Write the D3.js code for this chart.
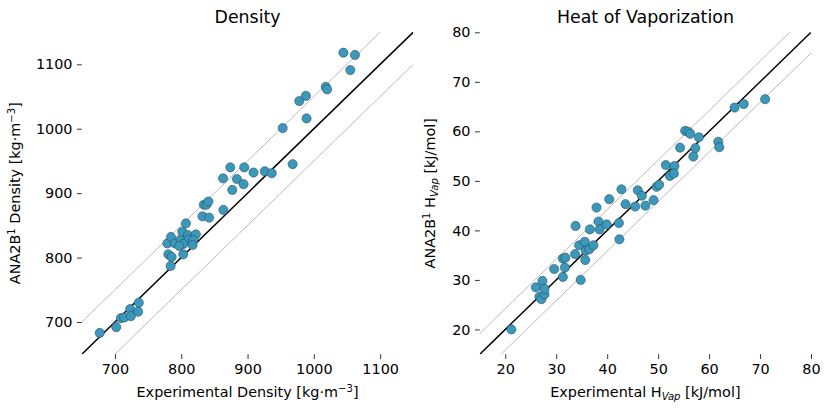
<!DOCTYPE html>
<html>
<head>
<meta charset="utf-8">
<script src="https://cdn.jsdelivr.net/npm/d3@7"></script>
<style>
body{margin:0;background:#fff;}
svg{font-family:"DejaVu Sans",sans-serif;}
</style>
</head>
<body>
<svg id="chart" width="831" height="414"></svg>
<script>
// ---- Data ----
const densityExp  = [677,702,709,714,723,724,736,735,779,784.5,790.6,799,801.6,807,810,822,811,818,803,797,817,780.5,785.5,803,784,832,842,834,838,841,863.5,863,874,877,884,895,894,909,926,936.5,968,953,978,988,989,1018,1020,1044.6,1062,1055];
const densityPred = [683,692,706,707,720,709,730,716,822,832,822,828,840,853,835,836,828,827,821,818,819.5,805,801,805,787,864,862,882,882,887,874,923,940,905,922,940,914,932,934,931,945,1001,1043,1051,1016,1065,1061,1118,1114.5,1091];

const hvapExp  = [21.2,26.0,27.3,26.7,27.1,27.7,27.7,29.6,31.3,31.8,31.7,31.3,33.8,33.7,34.5,35.6,35.8,35.7,34.8,36.5,37.3,36.6,37.9,38.3,38.5,39.9,40.4,42.3,42.4,42.8,43.6,45.5,46.0,46.8,47.5,49.1,49.7,50.2,51.5,52.3,53.2,53.1,54.3,55.3,55.9,56.3,57.3,56.9,58.0,61.8,62.0,65.0,66.8,71.0];
const hvapPred = [20.0,28.5,29.8,26.6,26.1,27.1,28.2,32.2,34.3,34.5,32.5,30.6,40.9,35.2,37.0,37.7,35.9,34.0,30.0,36.2,37.0,40.2,44.6,41.8,40.2,41.2,46.3,41.5,38.2,48.3,45.3,44.8,48.1,47.0,45.0,46.1,48.8,49.2,53.2,51.0,53.0,51.5,56.7,60.1,59.9,59.5,56.6,54.9,58.8,57.9,56.8,64.8,65.5,66.5];

const densityTicks = [700,800,900,1000,1100];
const hvapTicks = [20,30,40,50,60,70,80];

const svg = d3.select("#chart");
const MARK = "#3b98bb";
const FS = 14.4, FSS = 10.1;

function panel(cfg){
  const g = svg.append("g");
  const x = d3.scaleLinear().domain(cfg.domain).range([cfg.x0, cfg.x1]);
  const y = d3.scaleLinear().domain(cfg.domain).range([cfg.y0, cfg.y1]);
  const clipId = "clip"+cfg.id;
  svg.append("clipPath").attr("id", clipId).append("rect")
    .attr("x", cfg.x0).attr("y", cfg.y1).attr("width", cfg.x1-cfg.x0).attr("height", cfg.y0-cfg.y1);

  const lines = g.append("g").attr("clip-path", `url(#${clipId})`);
  const [a,b] = cfg.domain;
  [cfg.band, -cfg.band].forEach(o=>{
    lines.append("line")
      .attr("x1", x(a)).attr("y1", y(a+o)).attr("x2", x(b)).attr("y2", y(b+o))
      .attr("stroke", "#a8a8a8").attr("stroke-width", 0.8);
  });
  lines.append("line")
    .attr("x1", x(a)).attr("y1", y(a)).attr("x2", x(b)).attr("y2", y(b))
    .attr("stroke", "#000").attr("stroke-width", 1.5);

  g.append("g").selectAll("circle").data(cfg.xs.map((v,i)=>[v,cfg.ys[i]])).join("circle")
    .attr("cx", d=>x(d[0])).attr("cy", d=>y(d[1])).attr("r", 4.6)
    .attr("fill", MARK).attr("stroke", "#1f3f4f").attr("stroke-width", 0.5);

  const xa = g.append("g").attr("transform", `translate(0,${cfg.y0})`)
    .call(d3.axisBottom(x).tickValues(cfg.ticks).tickSize(4.8).tickPadding(4.5).tickFormat(d3.format("d")));
  const ya = g.append("g").attr("transform", `translate(${cfg.x0},0)`)
    .call(d3.axisLeft(y).tickValues(cfg.ticks).tickSize(4.8).tickPadding(4.5).tickFormat(d3.format("d")));
  [xa,ya].forEach(ax=>{
    ax.select(".domain").remove();
    ax.selectAll("text").attr("font-size", FS).attr("fill","#000").attr("font-family","DejaVu Sans");
    ax.selectAll("line").attr("stroke","#000").attr("stroke-width",0.8);
  });

  g.append("text").attr("x", (cfg.x0+cfg.x1)/2).attr("y", 23)
    .attr("text-anchor","middle").attr("font-size", 17.4).text(cfg.title);

  cfg.xlabel(g.append("text").attr("x",(cfg.x0+cfg.x1)/2).attr("y",397)
    .attr("text-anchor","middle").attr("font-size",FS));
  cfg.ylabel(g.append("text")
    .attr("transform",`translate(${cfg.ylx},${(cfg.y0+cfg.y1)/2}) rotate(-90)`)
    .attr("text-anchor","middle").attr("font-size",FS));
}

function densUnit(t){
  t.append("tspan").text(" [kg·m");
  t.append("tspan").attr("dy",-5.5).attr("font-size",FSS).text("−3");
  t.append("tspan").attr("dy",5.5).text("]");
}
function sub(t, s){
  t.append("tspan").text("H");
  t.append("tspan").attr("dy",3).attr("font-size",FSS).attr("font-style","italic").text(s);
  t.append("tspan").attr("dy",-3).text(" [kJ/mol]");
}
function ana(t){
  t.append("tspan").text("ANA2B");
  t.append("tspan").attr("dy",-5.5).attr("font-size",FSS).text("1");
  t.append("tspan").attr("dy",5.5).text(" ");
}

panel({id:1, domain:[650,1150], x0:81.8, x1:413.3, y0:354.2, y1:32.1, band:50,
  xs:densityExp, ys:densityPred, ticks:densityTicks, title:"Density", ylx:20,
  xlabel:t=>{t.append("tspan").text("Experimental Density"); densUnit(t);},
  ylabel:t=>{ana(t); t.append("tspan").text("Density"); densUnit(t);} });

panel({id:2, domain:[15,80], x0:479.8, x1:811, y0:354.2, y1:32.3, band:4.184,
  xs:hvapExp, ys:hvapPred, ticks:hvapTicks, title:"Heat of Vaporization", ylx:435,
  xlabel:t=>{t.append("tspan").text("Experimental "); sub(t,"Vap");},
  ylabel:t=>{ana(t); sub(t,"Vap");} });
</script>
</body>
</html>
